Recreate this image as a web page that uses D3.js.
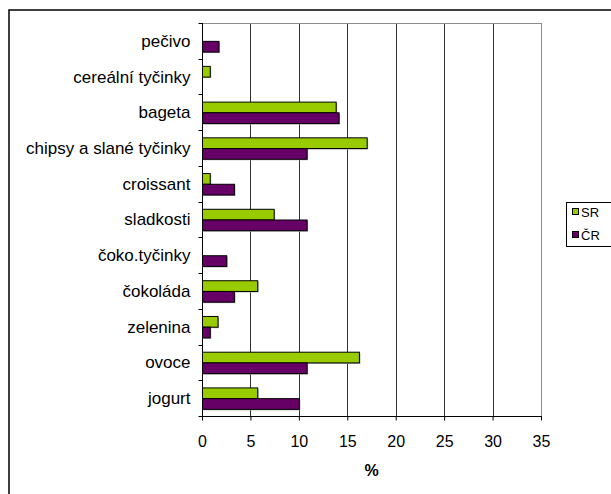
<!DOCTYPE html>
<html>
<head>
<meta charset="utf-8">
<script src="https://cdn.jsdelivr.net/npm/d3@7"></script>
<style>
  html, body { margin: 0; padding: 0; background: #fff; }
  svg { display: block; font-family: "Liberation Sans", Arial, sans-serif; }
</style>
</head>
<body>
<svg id="chart" width="611" height="494"></svg>
<script>
// Snack categories, top to bottom
const categories = ["pečivo", "cereální tyčinky", "bageta", "chipsy a slané tyčinky", "croissant",
  "sladkosti", "čoko.tyčinky", "čokoláda", "zelenina", "ovoce", "jogurt"];
// Share of respondents (%) per country
const seriesNames = ["SR", "ČR"];
const valuesSR = [0, 0.8, 13.8, 17.0, 0.8, 7.4, 0, 5.7, 1.6, 16.2, 5.7];
const valuesCR = [1.7, 0, 14.1, 10.8, 3.3, 10.8, 2.5, 3.3, 0.8, 10.8, 10.0];
const xTicks = [0, 5, 10, 15, 20, 25, 30, 35];
const axisTitle = "%";

const colors = { "SR": "#99CC00", "ČR": "#660066" };

const svg = d3.select("#chart");
const plot = { left: 202, right: 541, top: 23, bottom: 416 };

// Outer chart frame
svg.append("rect")
  .attr("x", 9).attr("y", 10).attr("width", 700).attr("height", 600)
  .attr("fill", "#fff").attr("stroke", "#000").attr("stroke-width", 1.5);

const x = d3.scaleLinear().domain([0, 35]).range([plot.left, plot.right]);
const y = d3.scaleBand().domain(categories).range([plot.top, plot.bottom]).paddingInner(0).paddingOuter(0);
const inner = d3.scaleBand().domain(seriesNames).range([0, y.bandwidth()]).paddingOuter(0.667).paddingInner(0);

// Vertical gridlines
svg.append("g")
  .selectAll("line")
  .data(xTicks.filter(t => t > 0 && t < 35))
  .join("line")
  .attr("x1", d => Math.round(x(d)) + 0.5).attr("x2", d => Math.round(x(d)) + 0.5)
  .attr("y1", plot.top).attr("y2", plot.bottom)
  .attr("stroke", "#333").attr("stroke-width", 1);

// Plot area border
svg.append("rect")
  .attr("x", plot.left + 0.5).attr("y", plot.top + 0.5)
  .attr("width", plot.right - plot.left).attr("height", plot.bottom - plot.top)
  .attr("fill", "none").attr("stroke", "#8c8c8c").attr("stroke-width", 1);

// Bars
const rows = categories.map((c, i) => ({ cat: c, vals: [
  { s: "SR", v: valuesSR[i] }, { s: "ČR", v: valuesCR[i] } ] }));

const groups = svg.append("g").selectAll("g")
  .data(rows).join("g")
  .attr("transform", d => `translate(0,${y(d.cat)})`);

groups.selectAll("rect.shadow")
  .data(d => d.vals.filter(e => e.v > 0))
  .join("rect").attr("class", "shadow")
  .attr("x", x(0) + 1.5)
  .attr("y", d => inner(d.s) + 1.5)
  .attr("width", d => x(d.v) - x(0))
  .attr("height", inner.bandwidth())
  .attr("fill", "#aaa");

groups.selectAll("rect.bar")
  .data(d => d.vals.filter(e => e.v > 0))
  .join("rect").attr("class", "bar")
  .attr("x", x(0) + 0.5)
  .attr("y", d => inner(d.s) + 0.5)
  .attr("width", d => x(d.v) - x(0))
  .attr("height", inner.bandwidth())
  .attr("fill", d => colors[d.s])
  .attr("stroke", "#000").attr("stroke-width", 1);

// Category axis
const yAxis = svg.append("g")
  .attr("transform", `translate(${plot.left + 0.5},0)`);
yAxis.append("line")
  .attr("x1", 0).attr("x2", 0).attr("y1", plot.top).attr("y2", plot.bottom)
  .attr("stroke", "#000");
yAxis.selectAll("line.tick")
  .data(categories.map(c => y(c)).concat([plot.bottom]))
  .join("line").attr("class", "tick")
  .attr("x1", -4).attr("x2", 0)
  .attr("y1", d => Math.round(d) + 0.5).attr("y2", d => Math.round(d) + 0.5)
  .attr("stroke", "#000");
yAxis.selectAll("text")
  .data(categories)
  .join("text")
  .attr("x", -12)
  .attr("y", d => y(d) + y.bandwidth() / 2)
  .attr("dy", "0.35em")
  .attr("text-anchor", "end")
  .attr("font-size", 17)
  .attr("fill", "#000")
  .text(d => d);

// Value axis
const xAxis = svg.append("g")
  .attr("transform", `translate(0,${plot.bottom + 0.5})`)
  .call(d3.axisBottom(x).tickValues(xTicks).tickSize(4).tickPadding(15.5).tickFormat(d3.format("d")));
xAxis.select(".domain").attr("stroke", "#000").attr("d", `M${plot.left},0H${plot.right + 1}`);
xAxis.selectAll(".tick line").attr("stroke", "#000");
xAxis.selectAll(".tick text")
  .attr("font-size", 16).attr("fill", "#000")
  .attr("font-family", "'Liberation Sans', Arial, sans-serif");

svg.append("text")
  .attr("x", (plot.left + plot.right) / 2)
  .attr("y", 470)
  .attr("dy", "0.35em")
  .attr("text-anchor", "middle")
  .attr("font-size", 16)
  .attr("font-weight", "bold")
  .text(axisTitle);

// Legend
const legend = svg.append("g");
legend.append("rect")
  .attr("x", 566.5).attr("y", 202.5).attr("width", 80).attr("height", 44)
  .attr("fill", "#fff").attr("stroke", "#000");
const legendRowY = [212, 235];
seriesNames.forEach((s, i) => {
  legend.append("rect")
    .attr("x", 572.5).attr("y", legendRowY[i] - 3.5).attr("width", 6).attr("height", 6)
    .attr("fill", colors[s]).attr("stroke", "#000");
  legend.append("text")
    .attr("x", 581).attr("y", legendRowY[i]).attr("dy", "0.35em")
    .attr("font-size", 13).text(s);
});
</script>
</body>
</html>
